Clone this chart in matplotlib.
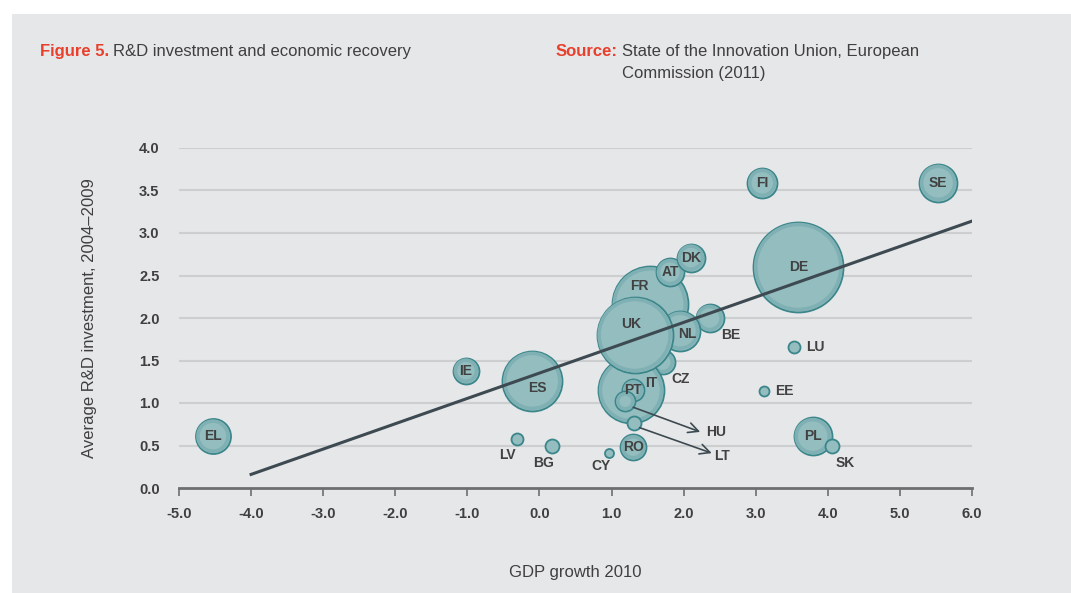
import matplotlib
matplotlib.use("Agg")
import matplotlib.pyplot as plt
from matplotlib.patches import Rectangle

plt.rcParams['font.family'] = ['Liberation Sans', 'DejaVu Sans']

# Country data: GDP growth 2010 (x), avg R&D investment 2004-2009 (y), bubble radius (px)
countries = ["DE", "FR", "AT", "DK", "BE", "NL", "CZ", "IT", "UK", "PT", "HU", "LT",
             "RO", "ES", "IE", "EL", "LV", "BG", "CY", "FI", "SE", "LU", "EE", "PL", "SK"]
gdp_growth = [3.59, 1.53, 1.81, 2.10, 2.36, 1.95, 1.71, 1.27, 1.32, 1.30, 1.19, 1.31,
              1.30, -0.10, -1.02, -4.53, -0.31, 0.17, 0.96, 3.09, 5.53, 3.53, 3.11, 3.79, 4.06]
rd_invest = [2.60, 2.16, 2.54, 2.71, 2.00, 1.85, 1.48, 1.15, 1.80, 1.15, 1.02, 0.76,
             0.48, 1.26, 1.38, 0.61, 0.58, 0.49, 0.41, 3.59, 3.59, 1.66, 1.14, 0.61, 0.49]
bubble_size = [45, 38, 14, 14, 14, 20, 12, 33, 38, 11, 10, 7,
               13, 30, 13, 17.5, 6, 7, 4.5, 15, 19, 6, 5, 19, 7]

# label offsets (pixels) from bubble centre; default is centred
label_offset = {"LV": (-10, -16), "BG": (-8, -17), "CY": (-8, -13), "CZ": (18, -17),
                "BE": (21, -17), "LU": (21, 0), "EE": (21, 0), "SK": (13, -17),
                "IT": (20, 7), "FR": (-10, 18), "NL": (7, -3), "UK": (-3, 11),
                "ES": (5, -7)}
no_label = ["HU", "LT"]

# callout arrows for HU and LT
callouts = {"HU": ((1.30, 0.95), (2.23, 0.66), (2.45, 0.66)),
            "LT": ((1.39, 0.71), (2.39, 0.41), (2.53, 0.38))}

# regression line
line_x = [-4.0, 6.0]
line_y = [0.16, 3.14]

bg = "#e6e7e8"
fig = plt.figure(figsize=(10.71, 5.93), dpi=100)
fig.patch.set_facecolor("white")
fig.add_artist(Rectangle((12 / 1071, 0), 1, 1 - 14 / 593, transform=fig.transFigure,
                         facecolor=bg, edgecolor="none", zorder=0))

ax = fig.add_axes([179 / 1071, 1 - 488 / 593, 793 / 1071, 340 / 593])
ax.set_facecolor("none")
ax.set_xlim(-5, 6)
ax.set_ylim(0, 4)

for s in ["top", "right", "left"]:
    ax.spines[s].set_visible(False)
ax.spines["bottom"].set_color("#6d6e70")
ax.spines["bottom"].set_linewidth(2)
ax.spines["bottom"].set_zorder(1)

ax.set_xticks(range(-5, 7))
ax.set_xticklabels([f"{v:.1f}" for v in range(-5, 7)])
ax.set_yticks([i * 0.5 for i in range(9)])
ax.set_yticklabels([f"{i * 0.5:.1f}" for i in range(9)])
ax.tick_params(axis="x", direction="out", length=6, width=1.2, color="#6d6e70",
               pad=8, labelsize=10.5, labelcolor="#3f3f40")
ax.tick_params(axis="y", length=0, pad=14, labelsize=10.5, labelcolor="#3f3f40")
for lab in ax.get_xticklabels() + ax.get_yticklabels():
    lab.set_fontweight("bold")

ax.yaxis.grid(True, color="#cdcecf", linewidth=1.5)
ax.set_axisbelow(True)
for gl in ax.get_ygridlines()[:1]:
    gl.set_visible(False)

px = 0.72  # points per pixel at 100 dpi
for i, c in enumerate(countries):
    r = bubble_size[i]
    ax.scatter(gdp_growth[i], rd_invest[i], s=(2 * r * px) ** 2, color="#93bdbf",
               edgecolor="#3b868b", linewidth=1.3, zorder=3 + i * 0.01, clip_on=False)
    if r > 8:
        ax.scatter(gdp_growth[i], rd_invest[i], s=(2 * (r - 2.5) * px) ** 2,
                   facecolor="none", edgecolor="#7fb0b3", linewidth=2.5,
                   zorder=3 + i * 0.01 + 0.001, clip_on=False)
    if c in no_label:
        continue
    dx, dy = label_offset.get(c, (0, 0))
    ax.annotate(c, (gdp_growth[i], rd_invest[i]), xytext=(dx, dy),
                textcoords="offset pixels", ha="center", va="center",
                fontsize=10, fontweight="bold", color="#414142", zorder=10)

ax.plot(line_x, line_y, color="#3e4a52", linewidth=2.2, zorder=6)

for c, (start, end, lab) in callouts.items():
    ax.annotate("", xy=end, xytext=start,
                arrowprops=dict(arrowstyle="->", color="#3e4a52", lw=1.2,
                                mutation_scale=18, shrinkA=0, shrinkB=0), zorder=7)
    ax.text(lab[0], lab[1], c, ha="center", va="center", fontsize=10,
            fontweight="bold", color="#414142", zorder=10)

ax.set_xlabel("GDP growth 2010", fontsize=12, color="#3f3f40")
ax.xaxis.set_label_coords(0.5, -0.226)
ax.set_ylabel("Average R&D investment, 2004\u20132009", fontsize=12, color="#3f3f40")
ax.yaxis.set_label_coords(-0.103, 0.5)

# header
red = "#e8402d"
fig.canvas.draw()
renderer = fig.canvas.get_renderer()
y1 = 1 - 56 / 593
y2 = 1 - 78 / 593
t1 = fig.text(40 / 1071, y1, "Figure 5.", color=red, fontsize=12,
              fontweight="bold", va="baseline")
bb = t1.get_window_extent(renderer)
fig.text((bb.x1 + 4) / 1071, y1, "R&D investment and economic recovery",
         color="#3f3f40", fontsize=12, va="baseline")
t2 = fig.text(556 / 1071, y1, "Source:", color=red, fontsize=12,
              fontweight="bold", va="baseline")
bb2 = t2.get_window_extent(renderer)
fig.text((bb2.x1 + 4) / 1071, y1, "State of the Innovation Union, European",
         color="#3f3f40", fontsize=12, va="baseline")
fig.text((bb2.x1 + 4) / 1071, y2, "Commission (2011)",
         color="#3f3f40", fontsize=12, va="baseline")

fig.savefig("out.png", dpi=100, facecolor="white")
